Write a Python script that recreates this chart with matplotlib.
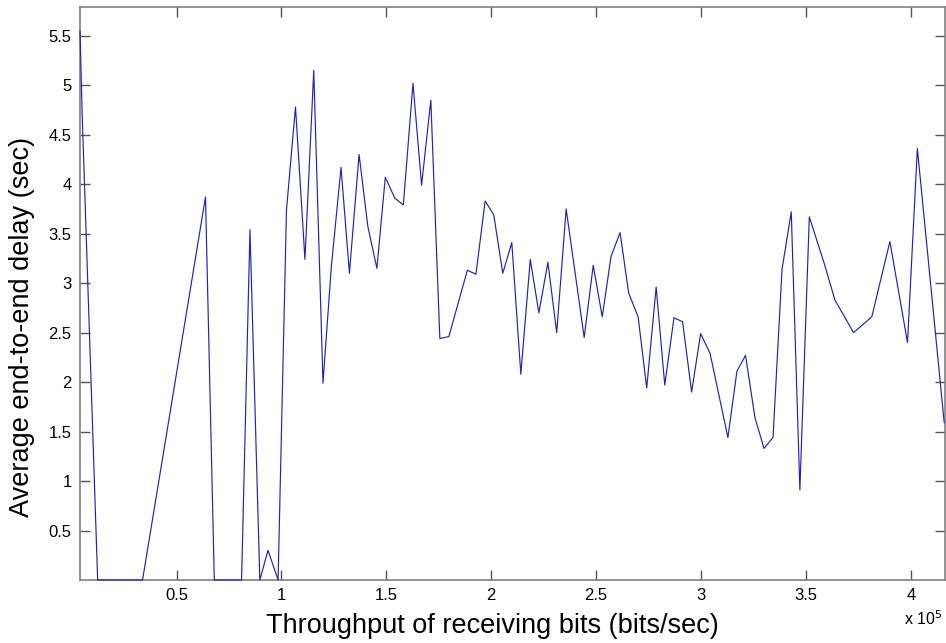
import matplotlib
matplotlib.use("Agg")
import matplotlib.pyplot as plt

# throughput (x 1e5 bits/sec) and average delay (sec)
throughput = [0.04, 0.05, 0.124, 0.338, 0.638, 0.68, 0.81, 0.85, 0.897, 0.936, 0.984,
              1.024, 1.067, 1.112, 1.154, 1.198, 1.238, 1.284, 1.324, 1.370, 1.412,
              1.455, 1.495, 1.54, 1.581, 1.627, 1.668, 1.712, 1.755, 1.798, 1.886,
              1.927, 1.971, 2.012, 2.055, 2.098, 2.141, 2.186, 2.227, 2.270, 2.312,
              2.357, 2.443, 2.486, 2.529, 2.571, 2.614, 2.655, 2.70, 2.741, 2.786,
              2.827, 2.871, 2.912, 2.955, 2.998, 3.043, 3.128, 3.171, 3.212, 3.257,
              3.30, 3.343, 3.386, 3.430, 3.471, 3.516, 3.587, 3.638, 3.727, 3.814,
              3.90, 3.984, 4.031, 4.159]
delay = [5.55, 4.72, 0.0, 0.0, 3.87, 0.0, 0.0, 3.54, 0.0, 0.30, 0.0,
         3.74, 4.78, 3.24, 5.15, 1.99, 3.17, 4.17, 3.10, 4.30, 3.57,
         3.15, 4.07, 3.86, 3.79, 5.02, 3.99, 4.85, 2.44, 2.46, 3.13,
         3.09, 3.83, 3.69, 3.10, 3.41, 2.08, 3.24, 2.70, 3.21, 2.50,
         3.75, 2.45, 3.18, 2.66, 3.27, 3.51, 2.90, 2.66, 1.94, 2.96,
         1.97, 2.65, 2.61, 1.90, 2.49, 2.29, 1.44, 2.11, 2.27, 1.64,
         1.33, 1.44, 3.14, 3.72, 0.91, 3.67, 3.20, 2.83, 2.50, 2.66,
         3.42, 2.40, 4.36, 1.59]

x = [v * 1e5 for v in throughput]

plt.rcParams['font.family'] = ['Liberation Sans', 'DejaVu Sans']

fig = plt.figure(figsize=(9.46, 6.43), dpi=100)
ax = fig.add_axes([0.0846, 0.098, 0.9144, 0.891])
ax.plot(x, delay, color='#2222b8', linewidth=0.85, zorder=3, clip_on=False)

ax.set_xlim(0.04e5, 4.163e5)
ax.set_ylim(0, 5.79)
ax.set_xticks([0.5e5, 1e5, 1.5e5, 2e5, 2.5e5, 3e5, 3.5e5, 4e5])
ax.set_xticklabels(['0.5', '1', '1.5', '2', '2.5', '3', '3.5', '4'])
ax.set_yticks([0.5, 1, 1.5, 2, 2.5, 3, 3.5, 4, 4.5, 5, 5.5])
ax.set_yticklabels(['0.5', '1', '1.5', '2', '2.5', '3', '3.5', '4', '4.5', '5', '5.5'])

ax.tick_params(direction='in', top=True, right=True, length=7, width=1,
               color='#555555', labelsize=12, pad=6)
for s in ax.spines.values():
    s.set_color('#808080')
    s.set_linewidth(1.2)

ax.set_xlabel('Throughput of receiving bits (bits/sec)', fontsize=19.5)
ax.set_ylabel('Average end-to-end delay (sec)', fontsize=19.5)
ax.xaxis.set_label_coords(0.477, -0.058)
ax.yaxis.set_label_coords(-0.067, 0.442)
ax.yaxis.label.set_va('center')
fig.text(0.956, 0.024, r'x 10$^5$', fontsize=11.5, ha='left', va='bottom')

fig.savefig('out.png', dpi=100)
